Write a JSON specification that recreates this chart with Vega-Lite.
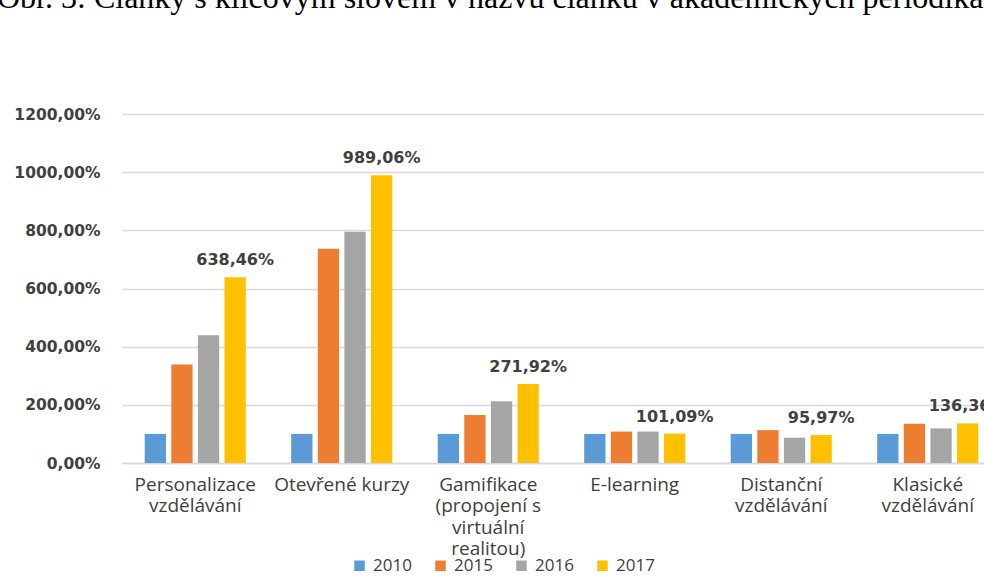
{
  "$schema": "https://vega.github.io/schema/vega-lite/v6.json",
  "autosize": {"type": "none"},
  "width": 879,
  "height": 349,
  "padding": {"left": 122, "top": 114, "right": 0, "bottom": 121},
  "background": "white",
  "title": {
    "text": "Obr. 3: Články s klíčovým slovem v názvu článku v akademických periodikách",
    "font": "Liberation Serif",
    "fontSize": 32,
    "fontWeight": "normal",
    "color": "#000000",
    "anchor": "start",
    "frame": "group",
    "baseline": "alphabetic",
    "offset": 0,
    "dx": -125,
    "dy": -67
  },
  "config": {
    "locale": {"number": {"decimal": ",", "thousands": " ", "grouping": [3], "currency": ["", ""]}},
    "view": {"stroke": null},
    "axis": {"ticks": false, "title": null}
  },
  "data": {
    "values": [
      {"category": "Personalizace vzdělávání", "year": "2010", "value": 1.0},
      {"category": "Personalizace vzdělávání", "year": "2015", "value": 3.39},
      {"category": "Personalizace vzdělávání", "year": "2016", "value": 4.39},
      {"category": "Personalizace vzdělávání", "year": "2017", "value": 6.3846},
      {"category": "Otevřené kurzy", "year": "2010", "value": 1.0},
      {"category": "Otevřené kurzy", "year": "2015", "value": 7.37},
      {"category": "Otevřené kurzy", "year": "2016", "value": 7.95},
      {"category": "Otevřené kurzy", "year": "2017", "value": 9.8906},
      {"category": "Gamifikace (propojení s virtuální realitou)", "year": "2010", "value": 1.0},
      {"category": "Gamifikace (propojení s virtuální realitou)", "year": "2015", "value": 1.65},
      {"category": "Gamifikace (propojení s virtuální realitou)", "year": "2016", "value": 2.12},
      {"category": "Gamifikace (propojení s virtuální realitou)", "year": "2017", "value": 2.7192},
      {"category": "E-learning", "year": "2010", "value": 1.0},
      {"category": "E-learning", "year": "2015", "value": 1.08},
      {"category": "E-learning", "year": "2016", "value": 1.08},
      {"category": "E-learning", "year": "2017", "value": 1.0109},
      {"category": "Distanční vzdělávání", "year": "2010", "value": 1.0},
      {"category": "Distanční vzdělávání", "year": "2015", "value": 1.13},
      {"category": "Distanční vzdělávání", "year": "2016", "value": 0.87},
      {"category": "Distanční vzdělávání", "year": "2017", "value": 0.9597},
      {"category": "Klasické vzdělávání", "year": "2010", "value": 1.0},
      {"category": "Klasické vzdělávání", "year": "2015", "value": 1.35},
      {"category": "Klasické vzdělávání", "year": "2016", "value": 1.19},
      {"category": "Klasické vzdělávání", "year": "2017", "value": 1.3636}
    ]
  },
  "encoding": {
    "x": {
      "field": "category",
      "type": "nominal",
      "sort": null,
      "scale": {"paddingInner": 0.31, "paddingOuter": 0.155},
      "axis": {
        "labelAngle": 0,
        "labelFont": "Open Sans",
        "labelFontSize": 19,
        "labelColor": "#404040",
        "labelPadding": 12,
        "labelLineHeight": 21.5,
        "labelOverlap": false,
        "labelLimit": 300,
        "domainColor": "#d9d9d9",
        "domainWidth": 1.5,
        "labelExpr": "datum.label == 'Otevřené kurzy' ? datum.label : datum.label == 'Gamifikace (propojení s virtuální realitou)' ? ['Gamifikace', '(propojení s', 'virtuální', 'realitou)'] : split(datum.label, ' ')"
      }
    },
    "xOffset": {
      "field": "year",
      "type": "nominal",
      "scale": {"paddingInner": 0.2, "paddingOuter": 0}
    },
    "y": {
      "field": "value",
      "type": "quantitative",
      "scale": {"domain": [0, 12], "nice": false},
      "axis": {
        "values": [0, 2, 4, 6, 8, 10, 12],
        "format": ".2%",
        "labelFont": "DejaVu Sans",
        "labelFontWeight": "bold",
        "labelFontSize": 15.5,
        "labelColor": "#404040",
        "labelPadding": 22,
        "domain": false,
        "gridColor": "#d9d9d9",
        "gridWidth": 1.5
      }
    }
  },
  "layer": [
    {
      "mark": {"type": "bar"},
      "encoding": {
        "color": {
          "field": "year",
          "type": "nominal",
          "scale": {"domain": ["2010", "2015", "2016", "2017"], "range": ["#5B9BD5", "#ED7D31", "#A5A5A5", "#FFC000"]},
          "legend": {
            "title": null,
            "orient": "none",
            "direction": "horizontal",
            "legendX": 229,
            "legendY": 443,
            "symbolType": "square",
            "symbolSize": 110,
            "symbolStrokeWidth": 0,
            "labelFont": "Open Sans",
            "labelFontSize": 17,
            "labelColor": "#404040",
            "labelOffset": 5,
            "columnPadding": 20
          }
        }
      }
    },
    {
      "transform": [{"filter": "datum.year == '2017'"}],
      "mark": {
        "type": "text",
        "baseline": "bottom",
        "dy": -9,
        "font": "DejaVu Sans",
        "fontWeight": "bold",
        "fontSize": 16,
        "color": "#404040"
      },
      "encoding": {
        "text": {"field": "value", "type": "quantitative", "format": ".2%"}
      }
    }
  ]
}
